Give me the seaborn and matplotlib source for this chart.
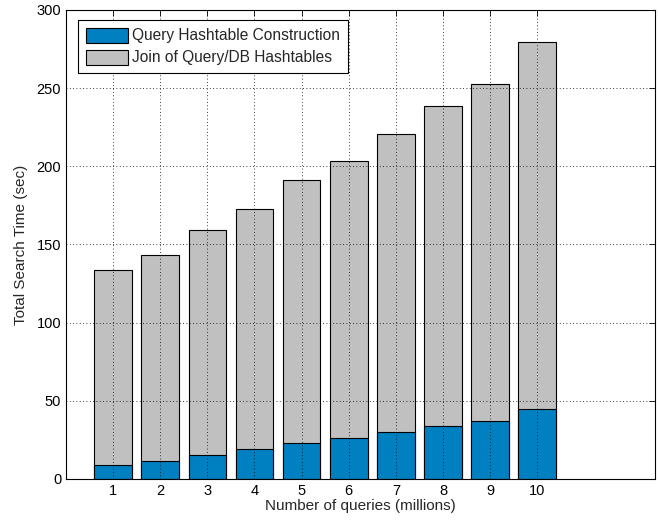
import numpy as np
import pandas as pd
import matplotlib
matplotlib.use("Agg")
import matplotlib.pyplot as plt
import seaborn as sns

# Datos
consultas = [1, 2, 3, 4, 5, 6, 7, 8, 9, 10]
construccion = [8.8, 11.3, 15.2, 19.0, 22.8, 26.5, 30.0, 33.7, 37.4, 44.8]
tiempo_total = [133.5, 143.3, 159.0, 172.7, 191.0, 203.4, 220.7, 238.3, 252.7, 279.5]

df = pd.DataFrame({"consultas": consultas, "construccion": construccion, "total": tiempo_total})

sns.set_style("white")
plt.rcParams["font.family"] = ["Liberation Sans", "DejaVu Sans"]

fig = plt.figure(figsize=(6.58, 5.21), dpi=100)
ax = fig.add_axes([66 / 658, 1 - 479 / 521, (655 - 66) / 658, (479 - 10) / 521])

# Barra gris (total) y azul encima desde cero
sns.barplot(data=df, x="consultas", y="total", native_scale=True, color="#c0c0c0",
            saturation=1, edgecolor="black", linewidth=0.8, width=0.8, ax=ax,
            label="Join of Query/DB Hashtables", zorder=2)
sns.barplot(data=df, x="consultas", y="construccion", native_scale=True, color="#0080c0",
            saturation=1, edgecolor="black", linewidth=0.8, width=0.8, ax=ax,
            label="Query Hashtable Construction", zorder=2)

ax.set_xlim(0, 12.5)
ax.set_ylim(0, 300)
ax.set_xticks(consultas)
ax.set_xticklabels([str(c) for c in consultas])
ax.set_yticks(np.arange(0, 301, 50))
ax.grid(True, linestyle=(0, (1, 3)), color="black", linewidth=0.6, zorder=3)
ax.set_axisbelow(False)
for p in ax.patches:
    p.set_zorder(1)
ax.tick_params(direction="in", top=True, right=True, length=4, width=0.6, labelsize=10.5, colors="black")
for s in ax.spines.values():
    s.set_visible(True)
    s.set_color("black")
    s.set_linewidth(0.8)

ax.set_xlabel("Number of queries (millions)", fontsize=11, labelpad=1)
ax.set_ylabel("Total Search Time (sec)", fontsize=11, labelpad=6)

handles, labels = ax.get_legend_handles_labels()
leg = ax.legend(handles[::-1], labels[::-1], loc="upper left", fontsize=11.2, frameon=True,
                fancybox=False, edgecolor="black", framealpha=1, borderpad=0.5, borderaxespad=0,
                handlelength=2.7, handleheight=1.1, handletextpad=0.3, labelspacing=0.4,
                bbox_to_anchor=(0.02, 0.979))
leg.get_frame().set_linewidth(0.8)
leg.set_zorder(5)

fig.savefig("out.png", dpi=100)
